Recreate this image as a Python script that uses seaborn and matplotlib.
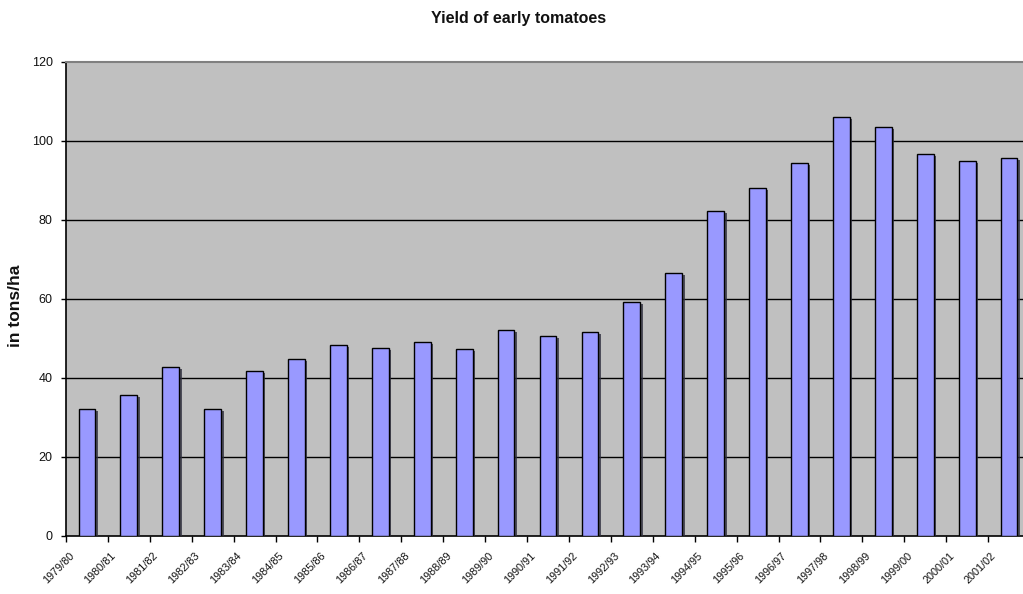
import matplotlib
matplotlib.use("Agg")
import matplotlib.pyplot as plt
import matplotlib.patheffects as pe
from matplotlib.transforms import ScaledTranslation
from matplotlib.ticker import FixedLocator
import numpy as np
import pandas as pd
import seaborn as sns

seasons = [
    "1979/80", "1980/81", "1981/82", "1982/83", "1983/84", "1984/85",
    "1985/86", "1986/87", "1987/88", "1988/89", "1989/90", "1990/91",
    "1991/92", "1992/93", "1993/94", "1994/95", "1995/96", "1996/97",
    "1997/98", "1998/99", "1999/00", "2000/01", "2001/02",
]
yield_t_ha = [
    32.0, 35.6, 42.7, 32.0, 41.7, 44.7, 48.3, 47.5, 49.0, 47.3, 52.1, 50.6,
    51.6, 59.3, 66.5, 82.3, 88.1, 94.5, 106.1, 103.5, 96.8, 95.0, 95.6,
]
y_ticks = [0, 20, 40, 60, 80, 100, 120]

df = pd.DataFrame({"season": seasons, "yield": yield_t_ha})

sns.set_theme(style="white")
plt.rcParams["font.family"] = ["Liberation Sans", "DejaVu Sans"]

W, H = 1023, 594
fig = plt.figure(figsize=(W / 100, H / 100), dpi=100)
fig.patch.set_facecolor("white")
ax = fig.add_axes([66 / W, 1 - 535.5 / H, 964 / W, 473.5 / H])
ax.set_facecolor("#C0C0C0")

sns.barplot(data=df, x="season", y="yield", color="#9999FF", saturation=1,
            width=0.4, edgecolor="black", linewidth=1.0, ax=ax, zorder=3)
for p in ax.patches:
    p.set_path_effects([
        pe.SimplePatchShadow(offset=(1.8, -1.5), shadow_rgbFace="#303040", alpha=0.8),
        pe.Normal(),
    ])

ax.set_xlim(-0.5, len(seasons) - 0.5)
ax.set_ylim(0, 120)
ax.set_yticks(y_ticks)
ax.grid(False)
for v in y_ticks[1:-1]:
    ax.axhline(v, color="black", lw=1.0, zorder=1)

# spines
ax.spines["right"].set_visible(False)
ax.spines["top"].set_color("#808080")
ax.spines["top"].set_linewidth(1.5)
ax.spines["left"].set_color("black")
ax.spines["left"].set_linewidth(1.2)
ax.spines["bottom"].set_color("black")
ax.spines["bottom"].set_linewidth(1.2)

ax.set_xlabel("")
ax.set_ylabel("")

# y ticks
ax.tick_params(axis="y", left=True, direction="out", length=3.5, width=1,
               color="black", pad=6, labelsize=9, labelcolor="#111111")

# x ticks: marks between categories, labels at category centres
ax.xaxis.set_minor_locator(FixedLocator(np.arange(-0.5, len(seasons), 1.0)))
ax.tick_params(axis="x", which="minor", bottom=True, direction="out",
               length=4, width=1, color="black")
ax.tick_params(axis="x", which="major", bottom=False, length=0, pad=11,
               labelsize=7.8, labelcolor="#111111")
offset = ScaledTranslation(-0.11, 0, fig.dpi_scale_trans)
for lbl in ax.get_xticklabels():
    lbl.set_rotation(45)
    lbl.set_ha("right")
    lbl.set_va("top")
    lbl.set_transform(lbl.get_transform() + offset)

fig.text(519 / W, 1 - 18 / H, "Yield of early tomatoes", ha="center",
         va="center", fontsize=11.5, fontweight="bold", color="#111111")
fig.text(16 / W, 1 - 306 / H, "in tons/ha", ha="center", va="center",
         rotation=90, fontsize=12.5, fontweight="bold", color="#111111")

fig.savefig("out.png", dpi=100, facecolor="white")
